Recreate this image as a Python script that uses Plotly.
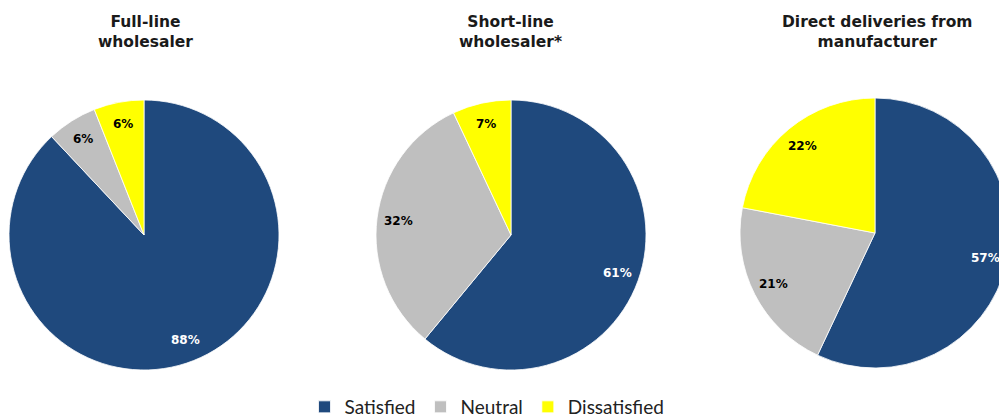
import math
import plotly.graph_objects as go

categories = ["Satisfied", "Neutral", "Dissatisfied"]
titles = ["Full-line<br>wholesaler", "Short-line<br>wholesaler*", "Direct deliveries from<br>manufacturer"]
full_line = [88, 6, 6]
short_line = [61, 32, 7]
direct = [57, 21, 22]
colors = ["#1F497D", "#BFBFBF", "#FFFF00"]
text_colors = ["white", "black", "black"]

W, H = 1012, 418
# pie pixel boxes (x0, x1, ytop, ybottom)
boxes = [(9, 279, 100, 370), (376, 646, 100, 370), (740, 1010, 98, 368)]
title_x = [145, 511, 877]
label_r = 0.84

fig = go.Figure()
for i, (vals, box) in enumerate(zip([full_line, short_line, direct], boxes)):
    x0, x1, yt, yb = box
    fig.add_trace(go.Pie(
        labels=categories,
        values=vals,
        sort=False,
        direction="clockwise",
        rotation=0,
        marker=dict(colors=colors, line=dict(color="white", width=0.8)),
        textinfo="none",
        hoverinfo="label+value",
        domain=dict(x=[x0 / W, x1 / W], y=[(H - yb) / H, (H - yt) / H]),
        showlegend=(i == 0),
    ))
    # percentage labels placed along each slice's bisector
    cx, cy, r = (x0 + x1) / 2, (yt + yb) / 2, (x1 - x0) / 2
    total = sum(vals)
    cum = 0
    for v, tc in zip(vals, text_colors):
        mid = (cum + v / 2) / total * 2 * math.pi
        cum += v
        px = cx + label_r * r * math.sin(mid)
        py = cy - label_r * r * math.cos(mid)
        fig.add_annotation(
            text="<b>%d%%</b>" % v, x=px / W, y=1 - py / H,
            xref="paper", yref="paper", xanchor="center", yanchor="middle",
            showarrow=False,
            font=dict(family="DejaVu Sans", size=12, color=tc),
        )
    fig.add_annotation(
        text="<b>" + titles[i] + "</b>",
        x=title_x[i] / W, y=1 - 32 / H, xref="paper", yref="paper",
        xanchor="center", yanchor="middle", showarrow=False,
        font=dict(family="DejaVu Sans", size=15.5, color="#1a1a1a"),
    )

fig.update_layout(
    width=W, height=H,
    margin=dict(l=0, r=0, t=0, b=0, autoexpand=False),
    paper_bgcolor="white", plot_bgcolor="white",
    legend=dict(
        orientation="h", x=487 / W, xanchor="center", y=1 - 407 / H, yanchor="middle",
        font=dict(family="Lato", size=19, color="#222222"),
        traceorder="normal",
    ),
)

fig.write_html("out.html", post_script="document.body.style.overflow='hidden';document.documentElement.style.overflow='hidden';document.body.style.margin='0';")
